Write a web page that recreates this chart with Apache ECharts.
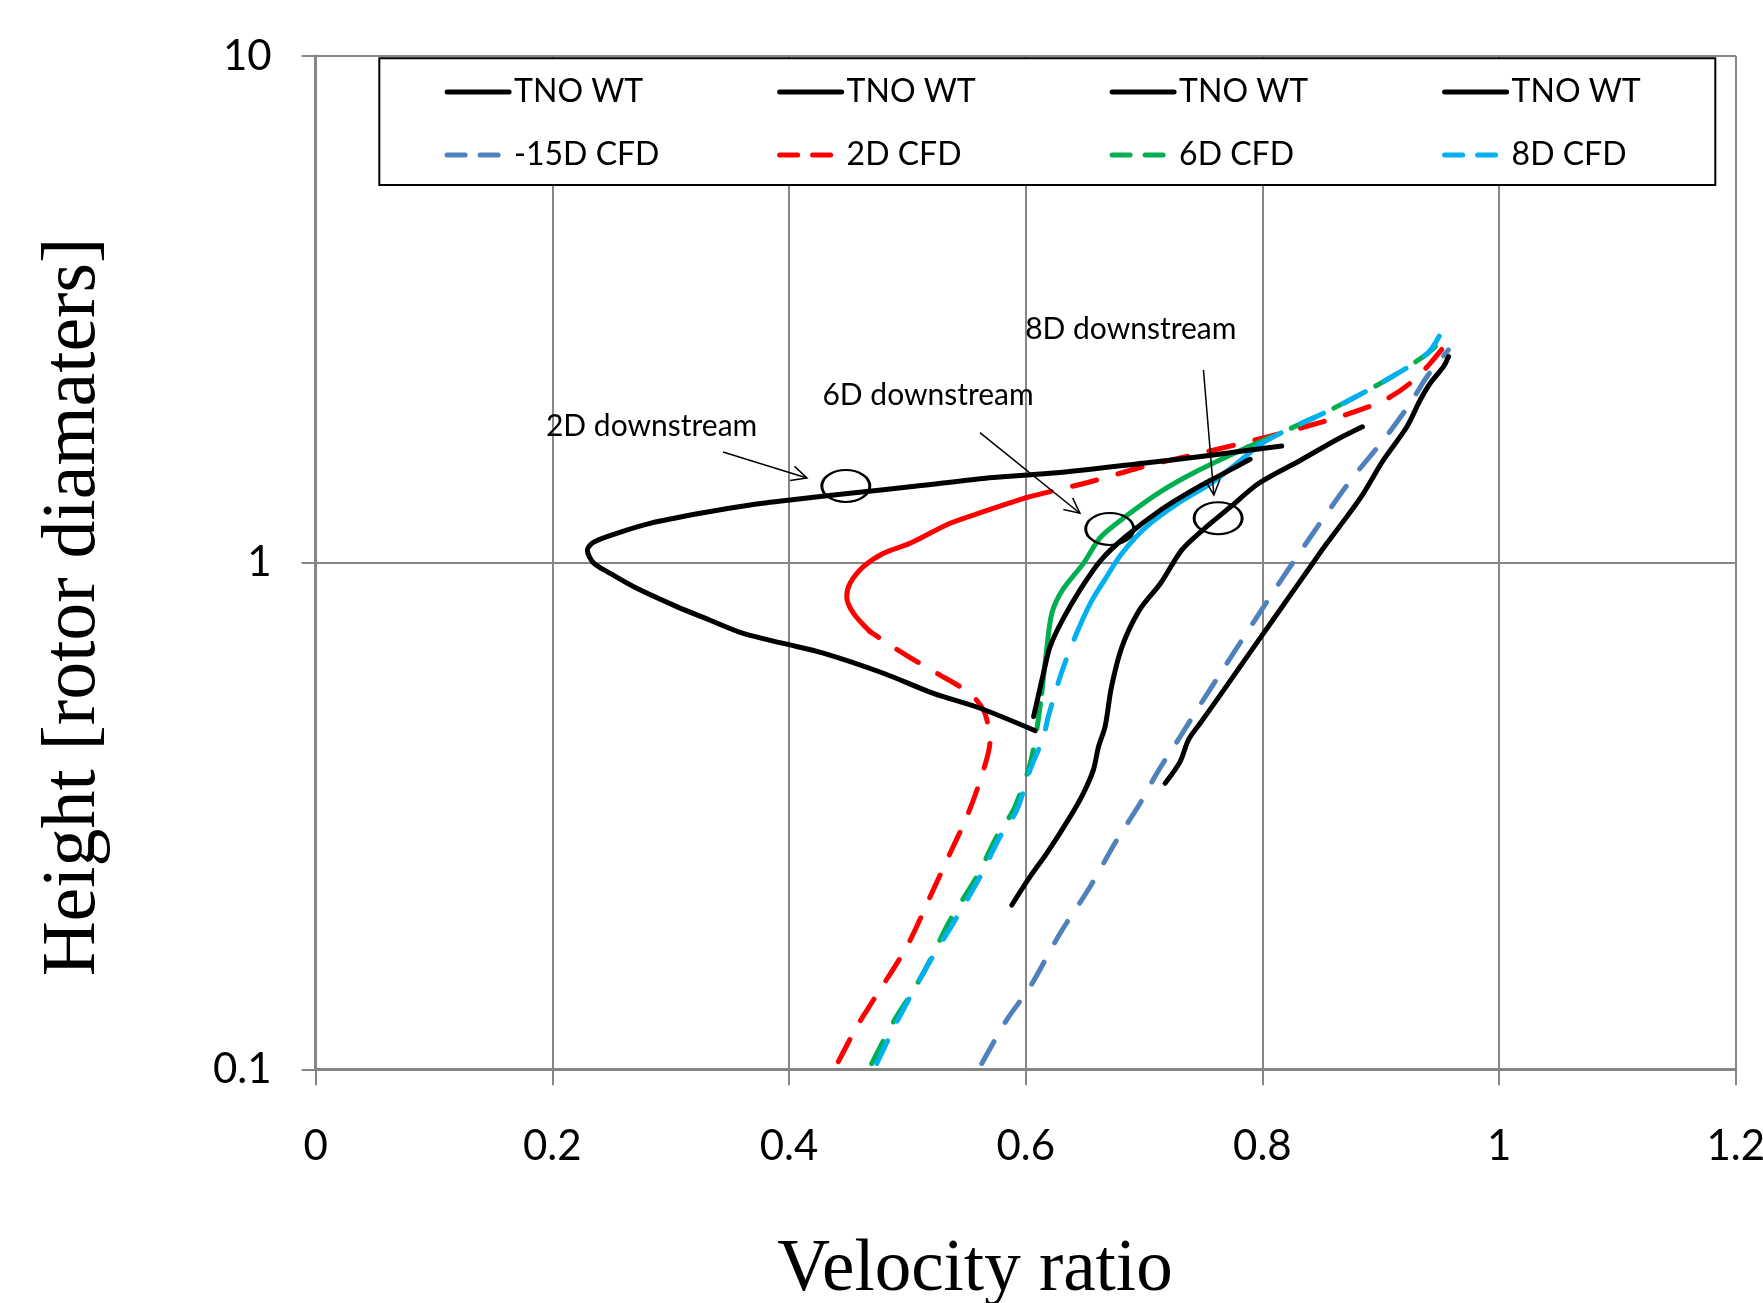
<!DOCTYPE html>
<html>
<head>
<meta charset="utf-8">
<script src="https://cdn.jsdelivr.net/npm/echarts@6/dist/echarts.min.js"></script>
<style>
  html, body { margin: 0; padding: 0; background: #fff; }
  #chart { width: 1763px; height: 1303px; }
</style>
</head>
<body>
<div id="chart"></div>
<script>
// [velocity ratio, height in rotor diameters], bottom to top
var tno15 = [[0.7178,0.367],[0.7305,0.405],[0.7375,0.447],[0.7474,0.482],[0.7615,0.536],[0.797,0.704],
  [0.8207,0.844],[0.8405,0.982],[0.8545,1.092],[0.8714,1.233],[0.8854,1.371],[0.9023,1.595],[0.9221,1.855],
  [0.9333,2.095],[0.9418,2.261],[0.953,2.438],[0.9572,2.551]];
var tno2 = [[0.608,0.466],[0.5615,0.516],[0.522,0.552],[0.4798,0.605],[0.429,0.663],[0.3952,0.693],[0.3614,0.725],
  [0.3333,0.77],[0.3052,0.819],[0.2714,0.89],[0.2488,0.953],[0.2347,1.0],[0.2296,1.059],[0.2347,1.097],
  [0.2545,1.143],[0.2826,1.196],[0.3249,1.252],[0.3671,1.3],[0.4009,1.33],[0.4516,1.371],[0.508,1.417],
  [0.5643,1.467],[0.6206,1.501],[0.6991,1.571],[0.7585,1.632],[0.8163,1.7]];
var tno6 = [[0.6067,0.497],[0.6118,0.561],[0.6156,0.614],[0.6206,0.683],[0.631,0.77],[0.6458,0.883],
  [0.6636,1.012],[0.6843,1.125],[0.714,1.271],[0.7437,1.402],[0.7673,1.501],[0.7896,1.6]];
var tno8 = [[0.5883,0.211],[0.6037,0.24],[0.6179,0.267],[0.6375,0.315],[0.6488,0.351],[0.6572,0.39],
  [0.6615,0.433],[0.6671,0.475],[0.6725,0.569],[0.6814,0.683],[0.6962,0.807],[0.714,0.911],[0.7318,1.059],
  [0.7496,1.16],[0.7733,1.29],[0.797,1.435],[0.8326,1.595],[0.8623,1.747],[0.8845,1.855]];

var cfd15 = [[0.5629,0.1027],[0.584,0.1252],[0.6037,0.1455],[0.6291,0.1856],[0.6544,0.2293],[0.677,0.2836],
  [0.6967,0.335],[0.7108,0.384],[0.7305,0.4534],[0.7446,0.512],[0.7673,0.619],[0.8066,0.857],[0.8291,1.027],
  [0.8545,1.252],[0.8769,1.478],[0.9023,1.747],[0.9249,2.064],[0.939,2.329],[0.9572,2.63]];
var cfd2 = [[0.4417,0.1035],[0.4573,0.1214],[0.4713,0.137],[0.4995,0.1746],[0.5192,0.219],[0.5361,0.267],
  [0.5502,0.315],[0.5615,0.372],[0.5699,0.447],[0.5685,0.475],[0.5643,0.512],[0.5558,0.544],[0.5446,0.569],
  [0.5277,0.6],[0.508,0.638],[0.4854,0.688],[0.4685,0.731],[0.4544,0.795],[0.4488,0.857],[0.4516,0.911],
  [0.4629,0.982],[0.4798,1.044],[0.5023,1.092],[0.5361,1.196],[0.5643,1.261],[0.601,1.346],[0.6206,1.381],
  [0.6547,1.445],[0.6992,1.547],[0.7474,1.644],[0.8049,1.773],[0.8362,1.855],[0.87,1.957],[0.9034,2.095],
  [0.9249,2.261],[0.9418,2.475],[0.9612,2.816]];
var cfd6 = [[0.4699,0.1026],[0.4882,0.124],[0.5051,0.1433],[0.5164,0.1594],[0.5361,0.197],[0.5587,0.24],
  [0.5756,0.288],[0.5896,0.325],[0.6023,0.39],[0.608,0.447],[0.6136,0.552],[0.6177,0.673],[0.6221,0.795],
  [0.631,0.883],[0.6488,0.997],[0.6636,1.125],[0.6843,1.233],[0.714,1.381],[0.7437,1.512],[0.7881,1.694],
  [0.8178,1.814],[0.8572,2.002],[0.9023,2.277],[0.939,2.582],[0.9559,2.816]];
var cfd8 = [[0.4742,0.1027],[0.4911,0.124],[0.5164,0.1594],[0.5403,0.197],[0.5615,0.24],[0.5784,0.288],
  [0.5925,0.325],[0.6037,0.39],[0.615,0.453],[0.6191,0.497],[0.631,0.614],[0.6429,0.725],[0.6547,0.832],
  [0.6666,0.924],[0.6814,1.044],[0.7021,1.178],[0.7288,1.31],[0.7585,1.445],[0.797,1.707],[0.8178,1.814],
  [0.8572,2.002],[0.9023,2.277],[0.939,2.582],[0.95,2.816]];

var tnoNames = ['TNO WT -15D', 'TNO WT 2D', 'TNO WT 6D', 'TNO WT 8D'];
var cfdNames = ['-15D CFD', '2D CFD', '6D CFD', '8D CFD'];

// annotations
var annoText = ['2D downstream', '6D downstream', '8D downstream'];
var annoTextPos = [[0.2839, 1.861], [0.5175, 2.143], [0.6888, 2.893]];
var arrowFrom = [[0.3442, 1.654], [0.5613, 1.806], [0.7502, 2.401]];
var arrowTo = [[0.4152, 1.47], [0.6458, 1.252], [0.759, 1.36]];
var ringCenter = [[0.448, 1.417], [0.671, 1.166], [0.7626, 1.224]];

var GRID = '#868686';
var DASH = [25, 22];

function line(name, data, color, dashed) {
  return {
    name: name,
    type: 'line',
    data: data,
    symbol: 'none',
    smooth: 0.3,
    silent: true,
    z: dashed ? 2 : 3,
    itemStyle: { color: color },
    lineStyle: { color: color, width: 5, type: dashed ? DASH : 'solid', cap: 'round', join: 'round' }
  };
}

// Excel draws the densely sampled middle part of the CFD curves as a solid stroke
function cfd(name, data, color, a, b) {
  if (a == null) return [line(name, data, color, true)];
  return [
    line(name, data.slice(0, a + 1), color, true),
    line(name, data.slice(a, b + 1), color, false),
    line(name, data.slice(b), color, true)
  ];
}

var chart = echarts.init(document.getElementById('chart'));

var series = [].concat(
  cfd(cfdNames[0], cfd15, '#4F81BD'),
  cfd(cfdNames[1], cfd2, '#FF0000', 16, 25),
  cfd(cfdNames[2], cfd6, '#00B050', 10, 19),
  cfd(cfdNames[3], cfd8, '#00B0F0', 11, 18),
  [line(tnoNames[0], tno15, '#000'), line(tnoNames[1], tno2, '#000'),
   line(tnoNames[2], tno6, '#000'), line(tnoNames[3], tno8, '#000')]
);

var legendBase = {
  left: 444.6,
  width: 1340,
  orient: 'horizontal',
  itemWidth: 62,
  itemHeight: 14,
  itemGap: 12,
  padding: 0,
  selectedMode: false,
  z: 20,
  itemStyle: { opacity: 0 },
  textStyle: { fontFamily: 'Lato', fontSize: 32, color: '#000', width: 251, lineHeight: 40 }
};

chart.setOption({
  animation: false,
  backgroundColor: '#fff',
  grid: { left: 315.6, right: 27.2, top: 56.1, bottom: 233.7, outerBoundsMode: 'none', containLabel: false },
  legend: [
    Object.assign({}, legendBase, {
      data: tnoNames, top: 72,
      formatter: function () { return 'TNO WT'; },
      lineStyle: { width: 5 }
    }),
    Object.assign({}, legendBase, {
      data: cfdNames, top: 135,
      lineStyle: { width: 5, type: [18, 15], cap: 'round' }
    })
  ],
  xAxis: {
    type: 'value', min: 0, max: 1.2, interval: 0.2,
    axisLine: { show: true, onZero: false, lineStyle: { color: GRID, width: 3 } },
    axisTick: { show: true, length: 16, lineStyle: { color: GRID, width: 2 } },
    axisLabel: { margin: 56, fontFamily: 'Lato', fontSize: 42, color: '#000' },
    splitLine: { show: true, lineStyle: { color: GRID, width: 2 } }
  },
  yAxis: {
    type: 'log', logBase: 10, min: 0.1, max: 10,
    axisLine: { show: true, lineStyle: { color: GRID, width: 3 } },
    axisTick: { show: true, length: 14, lineStyle: { color: GRID, width: 2 } },
    minorTick: { show: false },
    axisLabel: { margin: 44, fontFamily: 'Lato', fontSize: 42, color: '#000' },
    splitLine: { show: true, lineStyle: { color: GRID, width: 2 } }
  },
  series: series
});

function annotations() {
  var els = [];
  var px = function (p) { return chart.convertToPixel('grid', p); };
  for (var i = 0; i < annoText.length; i++) {
    var t = px(annoTextPos[i]);
    els.push({
      type: 'text', x: t[0], y: t[1], z: 30,
      style: { text: annoText[i], font: '30px Lato', fill: '#000', align: 'center', verticalAlign: 'middle' }
    });
    var a = px(arrowFrom[i]);
    var b = px(arrowTo[i]);
    var ang = Math.atan2(b[1] - a[1], b[0] - a[0]);
    var hl = 17, hw = 0.45;
    els.push({
      type: 'line', z: 30,
      shape: { x1: a[0], y1: a[1], x2: b[0], y2: b[1] },
      style: { stroke: '#000', lineWidth: 1.5 }
    });
    els.push({
      type: 'polyline', z: 30,
      shape: { points: [
        [b[0] - hl * Math.cos(ang - hw), b[1] - hl * Math.sin(ang - hw)],
        b,
        [b[0] - hl * Math.cos(ang + hw), b[1] - hl * Math.sin(ang + hw)]
      ] },
      style: { stroke: '#000', lineWidth: 1.5, fill: 'none' }
    });
    var c = px(ringCenter[i]);
    els.push({
      type: 'circle', x: c[0], y: c[1], scaleX: 1.5, z: 30,
      shape: { cx: 0, cy: 0, r: 16 },
      style: { stroke: '#000', fill: 'none', lineWidth: 2, strokeNoScale: true }
    });
  }
  return els;
}

chart.setOption({
  graphic: [
    { type: 'rect', z: 15, shape: { x: 379.3, y: 58.3, width: 1336, height: 126.7 },
      style: { fill: '#fff', stroke: '#000', lineWidth: 2 } },
    { type: 'text', x: 975, y: 1271, z: 30,
      style: { text: 'Velocity ratio', font: '73px "Liberation Serif"', fill: '#000', align: 'center', verticalAlign: 'middle' } },
    { type: 'text', x: 74, y: 607, rotation: Math.PI / 2, z: 30,
      style: { text: 'Height [rotor diamaters]', font: '76px "Liberation Serif"', fill: '#000', align: 'center', verticalAlign: 'middle' } }
  ].concat(annotations())
});
</script>
</body>
</html>
